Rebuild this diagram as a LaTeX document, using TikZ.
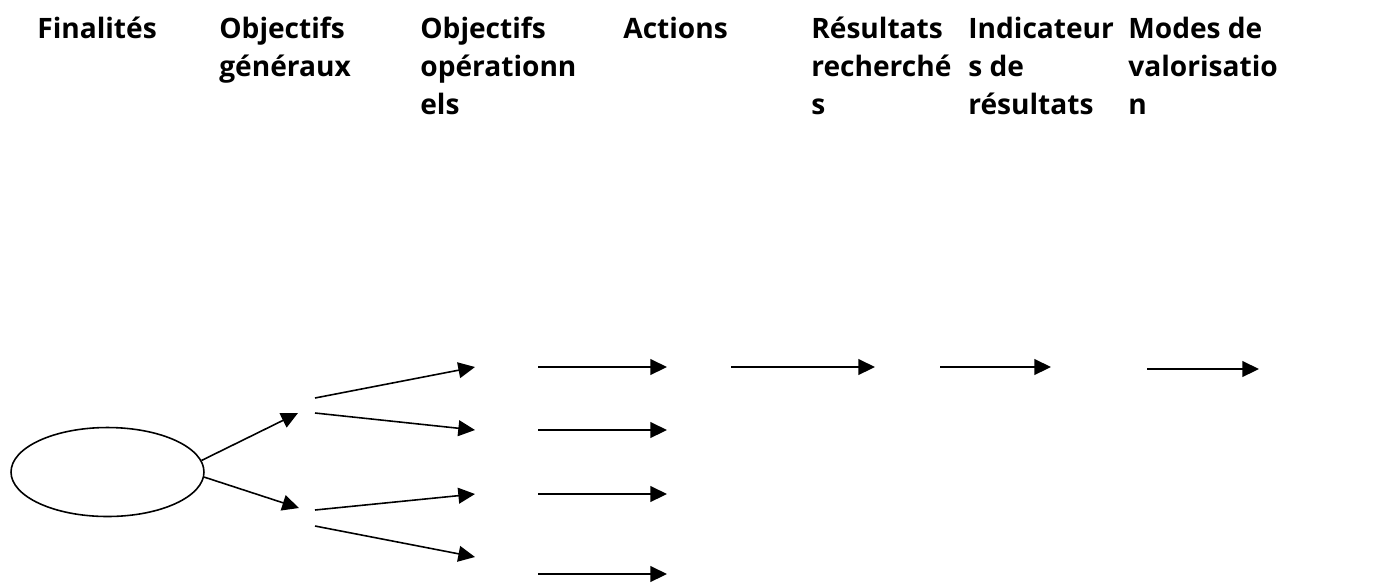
\documentclass[tikz,border=0pt]{standalone}
\usepackage{fontspec}
\setmainfont{Open Sans}
\usetikzlibrary{arrows.meta,shapes.geometric}
\begin{document}
\begin{tikzpicture}[x=0.02cm,y=-0.02cm,
  head/.style={anchor=north west,align=left,inner sep=0pt,font=\bfseries\fontsize{16}{21.6}\selectfont},
  fleche/.style={line width=0.9pt,-{Triangle[length=9.5pt,width=9pt]}}]
\useasboundingbox (0,0) rectangle (1386,583);
% headers
\node[head] (fin) at (37,17) {Finalités};
\node[head] (og) at (219,17) {Objectifs\\généraux};
\node[head] (oo) at (420,17) {Objectifs\\opérationn\\els};
\node[head] (act) at (623,17) {Actions};
\node[head] (res) at (811,17) {Résultats\\recherché\\s};
\node[head] (ind) at (968,17) {Indicateur\\s de\\résultats};
\node[head] (val) at (1128,17) {Modes de\\valorisatio\\n};

\coordinate (g1) at (298,413);
\coordinate (g2) at (299,508);
\coordinate (a1) at (315,398);
\coordinate (a2) at (315,413);
\coordinate (a3) at (315,510);
\coordinate (a4) at (315,526);
\coordinate (b1) at (475,367);
\coordinate (b2) at (475,430);
\coordinate (b3) at (475,494);
\coordinate (b4) at (475,557);
\coordinate (c1) at (538,367);
\coordinate (c2) at (538,430);
\coordinate (c3) at (538,494);
\coordinate (c4) at (538,574);
\coordinate (d1) at (667,367);
\coordinate (d2) at (667,430);
\coordinate (d3) at (667,494);
\coordinate (d4) at (667,574);
\coordinate (e1) at (731,367);
\coordinate (e2) at (875,367);
\coordinate (f1) at (940,367);
\coordinate (f2) at (1051,367);
\coordinate (h1) at (1147,369);
\coordinate (h2) at (1259,369);

  \node (but) at (107.5,472) [draw,ellipse,line width=0.9pt,minimum width=3.86cm,minimum height=1.78cm] {};
  \draw[fleche] (but.7) to[] (g1);
  \draw[fleche] (but.-3) to[] (g2);
  \draw[fleche] (a1) to[] (b1);
  \draw[fleche] (a2) to[] (b2);
  \draw[fleche] (a3) to[] (b3);
  \draw[fleche] (a4) to[] (b4);
  \draw[fleche] (c1) to[] (d1);
  \draw[fleche] (c2) to[] (d2);
  \draw[fleche] (c3) to[] (d3);
  \draw[fleche] (c4) to[] (d4);
  \draw[fleche] (e1) to[] (e2);
  \draw[fleche] (f1) to[] (f2);
  \draw[fleche] (h1) to[] (h2);
\end{tikzpicture}
\end{document}
